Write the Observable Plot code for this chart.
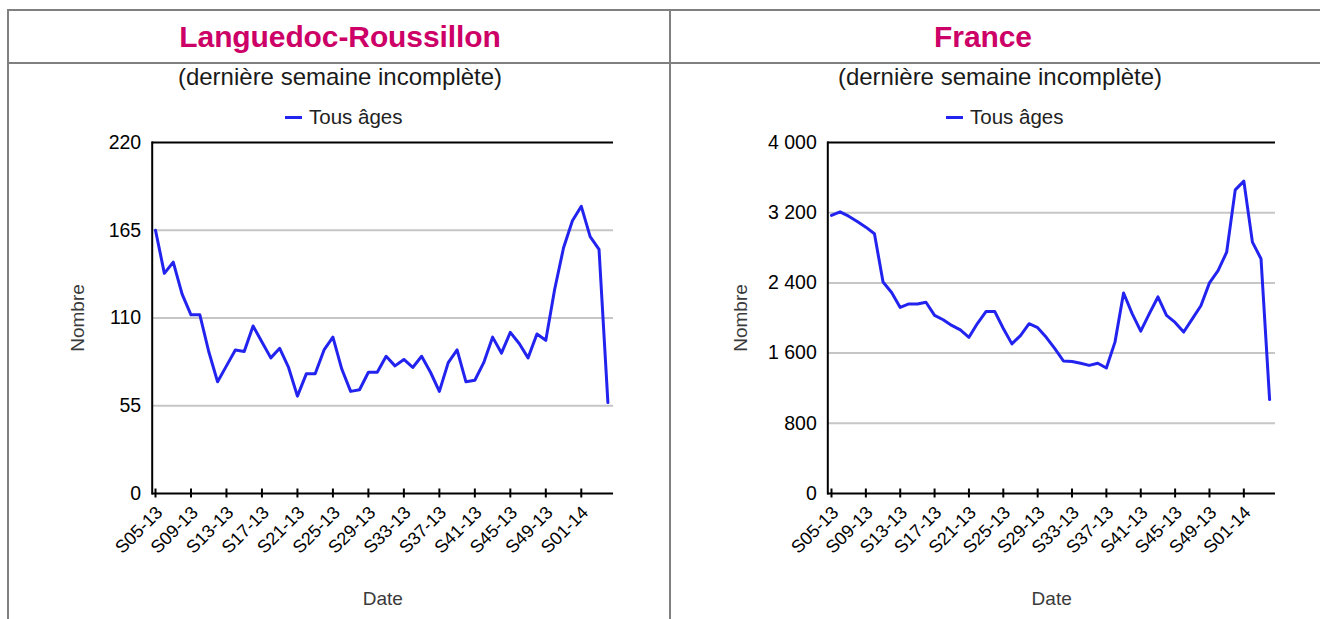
<!DOCTYPE html>
<html><head><meta charset="utf-8">
<script src="https://cdn.jsdelivr.net/npm/d3@7"></script>
<script src="https://cdn.jsdelivr.net/npm/@observablehq/plot@0.6"></script>
<style>
body{margin:0;width:1320px;height:619px;overflow:hidden;background:#fff;font-family:"Liberation Sans",Arial,sans-serif;position:relative}
.hl{position:absolute;height:2px;background:#808080}
.vl{position:absolute;width:2px;background:#808080}
.title{position:absolute;top:16px;height:42px;line-height:42px;font-weight:bold;font-size:30px;color:#cc0066;text-align:center;letter-spacing:-0.1px;white-space:nowrap}
.sub{position:absolute;top:63px;height:28px;line-height:28px;font-size:24px;color:#1a1a1a;text-align:center;white-space:nowrap}
.leg{position:absolute;top:106px;height:22px;line-height:22px;font-size:20.5px;color:#222;white-space:nowrap}
.leg i{display:inline-block;width:17px;height:3px;background:#2323f0;vertical-align:middle;margin-right:7px;position:relative;top:-1px}
.chart{position:absolute;top:130px}
</style></head><body>
<div class="hl" style="left:8px;top:9px;width:1312px"></div>
<div class="hl" style="left:8px;top:62px;width:1312px"></div>
<div class="vl" style="left:7px;top:9px;height:610px"></div>
<div class="vl" style="left:669px;top:9px;height:610px"></div>
<div class="title" style="left:140px;width:400px">Languedoc-Roussillon</div>
<div class="title" style="left:783px;width:400px">France</div>
<div class="sub" style="left:140px;width:400px">(dernière semaine incomplète)</div>
<div class="sub" style="left:800px;width:400px">(dernière semaine incomplète)</div>
<div class="leg" style="left:285px"><i></i><span class="lt"></span></div>
<div class="leg" style="left:946px"><i></i><span class="lt"></span></div>
<div class="chart" id="c1" style="left:0px"></div>
<div class="chart" id="c2" style="left:670px"></div>
<script>
const seriesName = "Tous âges";
const weeks = ["S05-13","S06-13","S07-13","S08-13","S09-13","S10-13","S11-13","S12-13","S13-13","S14-13",
  "S15-13","S16-13","S17-13","S18-13","S19-13","S20-13","S21-13","S22-13","S23-13","S24-13",
  "S25-13","S26-13","S27-13","S28-13","S29-13","S30-13","S31-13","S32-13","S33-13","S34-13",
  "S35-13","S36-13","S37-13","S38-13","S39-13","S40-13","S41-13","S42-13","S43-13","S44-13",
  "S45-13","S46-13","S47-13","S48-13","S49-13","S50-13","S51-13","S52-13","S01-14","S02-14",
  "S03-14","S04-14"];
const tickWeeks = ["S05-13","S09-13","S13-13","S17-13","S21-13","S25-13","S29-13","S33-13","S37-13","S41-13","S45-13","S49-13","S01-14"];
const lrValues = [165,138,145,125,112,112,89,70,80,90,89,105,95,85,91,79,61,75,75,90,
  98,78,64,65,76,76,86,80,84,79,86,76,64,82,90,70,71,82,98,88,
  101,94,85,100,96,128,154,171,180,161,153,57];
const frValues = [3170,3210,3160,3100,3035,2960,2410,2290,2120,2160,2160,2180,2030,1980,1915,1865,1780,1940,2075,2075,
  1880,1705,1800,1935,1890,1780,1650,1510,1505,1485,1460,1485,1430,1725,2285,2050,1850,2050,2240,2030,
  1950,1840,1990,2140,2400,2540,2750,3460,3560,2865,2675,1070];
const lrTicks = [0,55,110,165,220];
const frTicks = [0,800,1600,2400,3200,4000];

document.querySelectorAll(".lt").forEach(e => e.textContent = seriesName);

const spaceFmt = d3.formatLocale({decimal:",", thousands:" ", grouping:[3], currency:["","€"]}).format(",");

function chart({values, yTicks, width, marginLeft, marginRight, padding, insetRight, fmt, labelDx}) {
  const yMax = yTicks[yTicks.length - 1];
  const H = 480, mt = 12, mb = 117, ph = H - mt - mb;
  return Plot.plot({
    width, height: H, marginTop: mt, marginBottom: mb, marginLeft, marginRight,
    style: {fontFamily: "Liberation Sans, Arial, sans-serif", background: "transparent", overflow: "visible", color: "#000"},
    x: {type: "point", domain: weeks, padding, insetRight},
    y: {domain: [0, yMax]},
    marks: [
      Plot.ruleY(yTicks.slice(1, -1), {stroke: "#c6c6c6", strokeWidth: 2}),
      Plot.ruleY([yMax], {stroke: "#000", strokeWidth: 2}),
      Plot.ruleY([0], {stroke: "#000", strokeWidth: 2}),
      Plot.frame({anchor: "left", stroke: "#000", strokeWidth: 2}),
      Plot.ruleX(tickWeeks, {x: d => d, stroke: "#000", strokeWidth: 2, insetTop: ph - 4.5, insetBottom: -4.5}),
      Plot.axisY({ticks: yTicks, tickSize: 0, tickPadding: 11, fontSize: 19.5, tickFormat: fmt, label: null}),
      Plot.axisX({ticks: tickWeeks, tickSize: 0, tickRotate: -45, tickPadding: 16, dx: 4, fontSize: 18, label: null}),
      Plot.lineY(values, {x: (d, i) => weeks[i], y: d => d, stroke: "#2323f0", strokeWidth: 3}),
      Plot.text(["Nombre"], {text: d => d, frameAnchor: "left", textAnchor: "middle", lineAnchor: "middle", rotate: -90, dx: labelDx, fontSize: 19, fill: "#3a3a3a"}),
      Plot.text(["Date"], {text: d => d, frameAnchor: "bottom", textAnchor: "middle", lineAnchor: "middle", dy: 105, fontSize: 19, fill: "#3a3a3a"})
    ]
  });
}

document.getElementById("c1").append(chart({
  values: lrValues, yTicks: lrTicks, width: 660, marginLeft: 151.7, marginRight: 47,
  padding: 0.372, insetRight: 2.3, fmt: d => String(d), labelDx: -74
}));
document.getElementById("c2").append(chart({
  values: frValues, yTicks: frTicks, width: 650, marginLeft: 157.3, marginRight: 45,
  padding: 0.43, insetRight: 2.2, fmt: spaceFmt, labelDx: -87
}));
</script>
</body></html>
